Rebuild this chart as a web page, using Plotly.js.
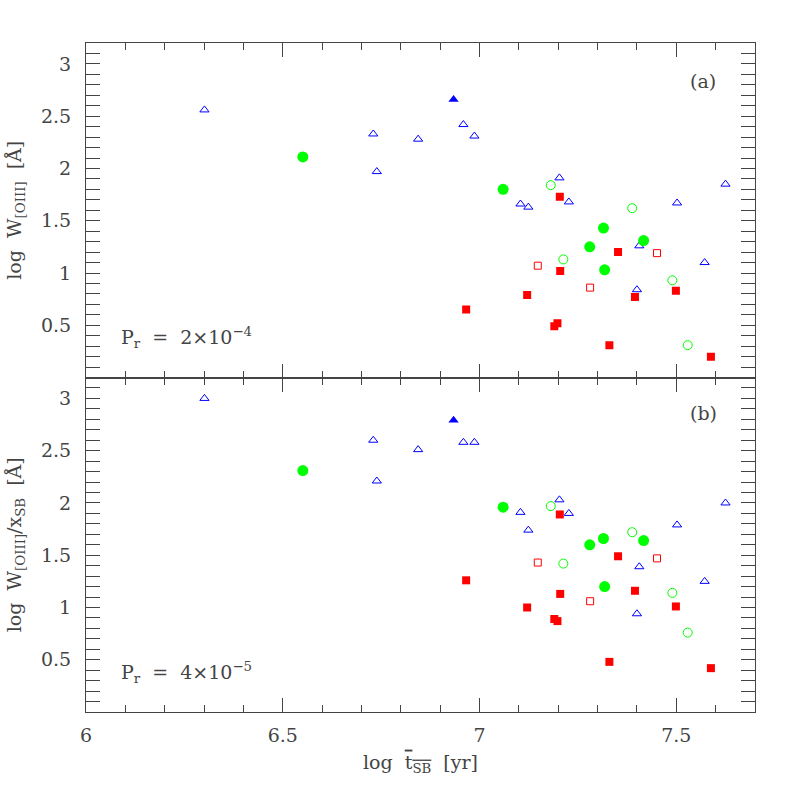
<!DOCTYPE html>
<html>
<head>
<meta charset="utf-8">
<script src="https://cdn.plot.ly/plotly-3.0.1.min.js"></script>
<style>body{margin:0;background:#fff}</style>
</head>
<body>
<div id="plot" style="width:797px;height:797px"></div>
<script>
// log t_SB for each group, and the two y quantities (panel a, panel b)
var triFillX = [6.934];
var triFillA = [2.66];
var triFillB = [2.79];

var triOpenX = [6.301, 6.730, 6.739, 6.844, 6.959, 6.987, 7.104, 7.124, 7.203, 7.227, 7.400, 7.406, 7.502, 7.572, 7.625];
var triOpenA = [2.56, 2.33, 1.97, 2.28, 2.42, 2.31, 1.66, 1.63, 1.91, 1.68, 0.84, 1.26, 1.67, 1.10, 1.85];
var triOpenB = [3.00, 2.60, 2.21, 2.51, 2.58, 2.58, 1.91, 1.74, 2.03, 1.90, 0.94, 1.39, 1.79, 1.25, 2.00];

var circFillX = [6.551, 7.060, 7.280, 7.315, 7.318, 7.417];
var circFillA = [2.11, 1.80, 1.25, 1.43, 1.03, 1.31];
var circFillB = [2.31, 1.96, 1.60, 1.66, 1.20, 1.64];

var circOpenX = [7.181, 7.213, 7.388, 7.490, 7.529];
var circOpenA = [1.84, 1.13, 1.62, 0.93, 0.31];
var circOpenB = [1.97, 1.42, 1.72, 1.14, 0.76];

var sqFillX = [6.966, 7.121, 7.190, 7.198, 7.204, 7.205, 7.330, 7.352, 7.395, 7.499, 7.588];
var sqFillA = [0.65, 0.79, 0.49, 0.52, 1.73, 1.02, 0.31, 1.20, 0.77, 0.83, 0.20];
var sqFillB = [1.26, 1.00, 0.89, 0.87, 1.89, 1.13, 0.48, 1.49, 1.16, 1.01, 0.42];

var sqOpenX = [7.148, 7.281, 7.451];
var sqOpenA = [1.07, 0.86, 1.19];
var sqOpenB = [1.43, 1.06, 1.47];

var BLUE = '#0000ff', GREEN = '#00ff00', RED = '#ff0000';

function pts(x, y, panel, sym, size, color) {
  var open = sym.indexOf('open') >= 0;
  return {
    type: 'scatter', mode: 'markers', x: x, y: y,
    xaxis: panel === 1 ? 'x' : 'x2', yaxis: panel === 1 ? 'y' : 'y2',
    marker: { symbol: sym, size: size, color: color, line: { color: color, width: open ? 1 : 0 } },
    hoverinfo: 'x+y'
  };
}

var data = [];
[1, 2].forEach(function (p) {
  data.push(pts(triOpenX, p === 1 ? triOpenA : triOpenB, p, 'triangle-up-open', 8, BLUE));
  data.push(pts(triFillX, p === 1 ? triFillA : triFillB, p, 'triangle-up', 9, BLUE));
  data.push(pts(circOpenX, p === 1 ? circOpenA : circOpenB, p, 'circle-open', 9, GREEN));
  data.push(pts(circFillX, p === 1 ? circFillA : circFillB, p, 'circle', 11, GREEN));
  data.push(pts(sqOpenX, p === 1 ? sqOpenA : sqOpenB, p, 'square-open', 7, RED));
  data.push(pts(sqFillX, p === 1 ? sqFillA : sqFillB, p, 'square', 8, RED));
});
// empty traces so the minor-tick overlay axes get drawn
data.push({ type: 'scatter', mode: 'markers', x: [], y: [], xaxis: 'x3', yaxis: 'y', hoverinfo: 'skip' });
data.push({ type: 'scatter', mode: 'markers', x: [], y: [], xaxis: 'x4', yaxis: 'y2', hoverinfo: 'skip' });

var FONT = { family: 'DejaVu Serif, serif', size: 19, color: '#444' };
var AX = '#444';

function xax(extra) {
  var a = {
    range: [6, 7.7], tickmode: 'linear', tick0: 0, dtick: 0.5,
    ticks: 'inside', ticklen: 14, tickwidth: 1, tickcolor: AX,
    showline: true, linecolor: AX, linewidth: 1, mirror: 'allticks',
    showgrid: false, zeroline: false,
    tickfont: FONT, ticklabelstandoff: 6
  };
  for (var k in extra) a[k] = extra[k];
  return a;
}
// overlay axis that only carries the 0.1 minor ticks
function xminor(over, anchor) {
  return {
    overlaying: over, anchor: anchor, side: 'bottom',
    range: [6, 7.7], tickmode: 'linear', tick0: 0, dtick: 0.1,
    ticks: 'inside', ticklen: 7, tickwidth: 1, tickcolor: AX,
    showline: false, mirror: 'allticks', showticklabels: false,
    showgrid: false, zeroline: false
  };
}
function yax(extra) {
  var a = {
    range: [0.0005, 3.2], tickmode: 'linear', tick0: 0, dtick: 0.5,
    ticks: 'inside', ticklen: 14, tickwidth: 1, tickcolor: AX,
    showline: true, linecolor: AX, linewidth: 1, mirror: 'allticks',
    showgrid: false, zeroline: false,
    minor: { dtick: 0.1, ticks: 'inside', ticklen: 7, tickwidth: 1, tickcolor: AX, showgrid: false },
    tickfont: FONT, ticklabelstandoff: 10
  };
  for (var k in extra) a[k] = extra[k];
  return a;
}

var layout = {
  width: 797, height: 797,
  margin: { l: 86, r: 42, t: 43, b: 85 },
  paper_bgcolor: '#fff', plot_bgcolor: '#fff',
  showlegend: false,
  font: FONT,
  xaxis: xax({ anchor: 'y', showticklabels: false, domain: [0, 1] }),
  xaxis2: xax({ anchor: 'y2', domain: [0, 1],
    title: { text: 'log  <span style="text-decoration:overline">t<sub>SB</sub></span>  [yr]', font: FONT, standoff: 10 } }),
  xaxis3: xminor('x', 'y'),
  xaxis4: xminor('x2', 'y2'),
  yaxis: yax({ domain: [0.5, 1], anchor: 'x',
    title: { text: 'log  W<sub>[OIII]</sub>  [\u00c5]', font: FONT, standoff: 14 } }),
  yaxis2: yax({ domain: [0, 0.5], anchor: 'x2',
    title: { text: 'log  W<sub>[OIII]</sub>/x<sub>SB</sub>  [\u00c5]', font: FONT, standoff: 14 } }),
  annotations: [
    { xref: 'x', yref: 'y', x: 7.568, y: 2.84, text: '(a)', showarrow: false, font: FONT },
    { xref: 'x2', yref: 'y2', x: 7.568, y: 2.86, text: '(b)', showarrow: false, font: FONT },
    { xref: 'x', yref: 'y', x: 6.084, y: 0.38, xanchor: 'left', showarrow: false, font: FONT,
      text: 'P<sub>r</sub>  =  2\u00d710<sup>\u22124</sup>' },
    { xref: 'x2', yref: 'y2', x: 6.084, y: 0.38, xanchor: 'left', showarrow: false, font: FONT,
      text: 'P<sub>r</sub>  =  4\u00d710<sup>\u22125</sup>' }
  ]
};

Plotly.newPlot('plot', data, layout, { displayModeBar: false, staticPlot: true });
</script>
</body>
</html>
